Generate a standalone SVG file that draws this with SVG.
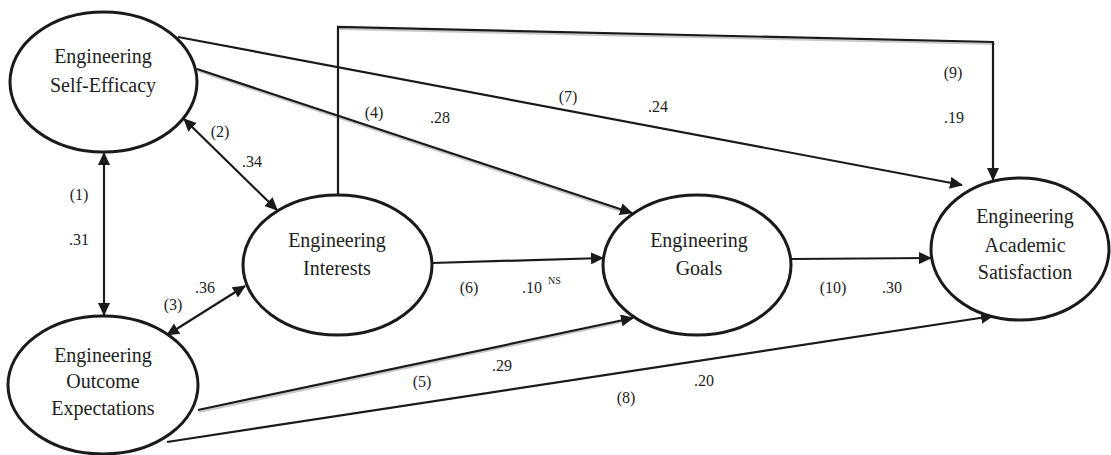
<svg xmlns="http://www.w3.org/2000/svg" width="1111" height="455" viewBox="0 0 1111 455">
<style>
.node ellipse{fill:#fff;stroke:#1a1a1a;stroke-width:3}
.node text{font-size:20px;fill:#222;text-anchor:middle}
.lbl{font-size:16px;fill:#222;text-anchor:middle}
.sup{font-size:10px;fill:#222}
.c{fill:none;stroke:#1a1a1a;stroke-width:2.2}
.sh{fill:none;stroke:#c8c8c8;stroke-width:2.2}
</style>
<defs>
<marker id="ah" markerUnits="userSpaceOnUse" markerWidth="13" markerHeight="12" refX="12" refY="6" orient="auto-start-reverse">
<path d="M0,0 L13,6 L0,12 z" fill="#1a1a1a"/>
</marker>
</defs>
<rect width="1111" height="455" fill="#fff"/>
<g id="connectors">
<polyline class="sh" points="340,29 995,44"/>
<line class="sh" x1="198" y1="71" x2="620" y2="211"/>
<line class="sh" x1="199" y1="412" x2="622" y2="322"/>
<line class="c" x1="104" y1="153" x2="104" y2="315" marker-start="url(#ah)" marker-end="url(#ah)"/>
<line class="c" x1="184" y1="119" x2="277" y2="210" marker-start="url(#ah)" marker-end="url(#ah)"/>
<line class="c" x1="167" y1="335" x2="245" y2="286" marker-start="url(#ah)" marker-end="url(#ah)"/>
<line class="c" x1="197" y1="69" x2="632" y2="213" marker-end="url(#ah)"/>
<line class="c" x1="198" y1="410" x2="633" y2="318" marker-end="url(#ah)"/>
<line class="c" x1="432" y1="263" x2="603" y2="258" marker-end="url(#ah)"/>
<line class="c" x1="178" y1="37" x2="962" y2="185" marker-end="url(#ah)"/>
<line class="c" x1="167" y1="442" x2="993" y2="316" marker-end="url(#ah)"/>
<polyline class="c" points="338,195 338,27 993,42 993,180" marker-end="url(#ah)"/>
<line class="c" x1="791" y1="259" x2="931" y2="258" marker-end="url(#ah)"/>
</g>
<g font-family="'Liberation Serif', 'DejaVu Serif', serif">
<g id="self-efficacy" class="node">
<ellipse cx="103.5" cy="82" rx="93.5" ry="70"/>
<text x="103" y="63">Engineering</text>
<text x="103" y="92">Self-Efficacy</text>
</g>
<g id="outcome" class="node">
<ellipse cx="103" cy="385" rx="95" ry="69"/>
<text x="103" y="362">Engineering</text>
<text x="103" y="388">Outcome</text>
<text x="103" y="415">Expectations</text>
</g>
<g id="interests" class="node">
<ellipse cx="337.5" cy="265" rx="94.5" ry="70"/>
<text x="337" y="247">Engineering</text>
<text x="337" y="275">Interests</text>
</g>
<g id="goals" class="node">
<ellipse cx="697" cy="265" rx="94" ry="70"/>
<text x="699" y="247">Engineering</text>
<text x="699" y="275">Goals</text>
</g>
<g id="satisfaction" class="node">
<ellipse cx="1020" cy="249" rx="89" ry="71"/>
<text x="1025" y="223">Engineering</text>
<text x="1025" y="252">Academic</text>
<text x="1025" y="279">Satisfaction</text>
</g>
<g id="labels">
<text class="lbl" x="79" y="200">(1)</text>
<text class="lbl" x="79" y="245">.31</text>
<text class="lbl" x="220" y="137">(2)</text>
<text class="lbl" x="252" y="167">.34</text>
<text class="lbl" x="173" y="310">(3)</text>
<text class="lbl" x="205" y="293">.36</text>
<text class="lbl" x="374" y="118">(4)</text>
<text class="lbl" x="440" y="123">.28</text>
<text class="lbl" x="568" y="102">(7)</text>
<text class="lbl" x="658" y="112">.24</text>
<text class="lbl" x="953" y="78">(9)</text>
<text class="lbl" x="954" y="123">.19</text>
<text class="lbl" x="469" y="293">(6)</text>
<text class="lbl" x="532" y="293">.10</text>
<text class="sup" x="548" y="284">NS</text>
<text class="lbl" x="833" y="293">(10)</text>
<text class="lbl" x="892" y="293">.30</text>
<text class="lbl" x="422" y="387">(5)</text>
<text class="lbl" x="502" y="371">.29</text>
<text class="lbl" x="626" y="403">(8)</text>
<text class="lbl" x="704" y="386">.20</text>
</g>
</g>
</svg>
